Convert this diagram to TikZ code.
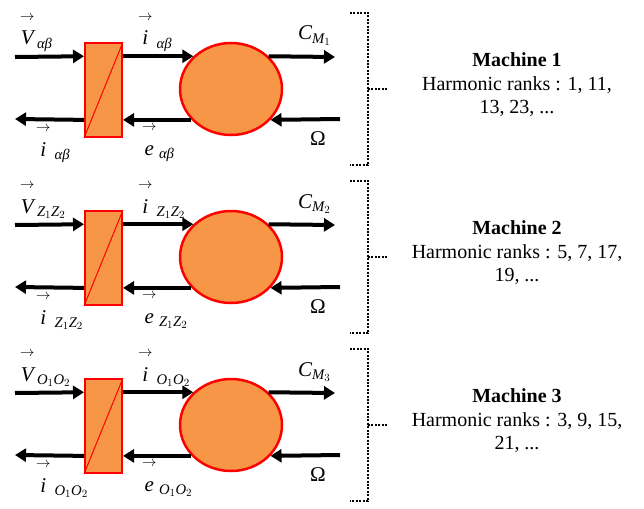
\documentclass[tikz,border=0pt]{standalone}
\usepackage{amsmath}
\usepackage{fontspec}
\setmainfont{Liberation Serif}
\usetikzlibrary{shapes.geometric,arrows.meta}
\definecolor{boxorange}{HTML}{F79646}
\newcommand{\vecup}[1]{\overset{\rightarrow}{\rule{0pt}{0.95em}\mathit{#1}}}

\begin{document}
\begin{tikzpicture}[x=1pt,y=-1pt]
        \tikzstyle{arr}=[line width=4pt, -{Triangle[length=11pt,width=13pt]}]
        \tikzstyle{convbox}=[draw=red, fill=boxorange, line width=2pt, minimum width=37pt, minimum height=94pt, inner sep=0pt]
        \tikzstyle{machine}=[ellipse, draw=red, fill=boxorange, line width=2.5pt, minimum width=102pt, minimum height=92pt, inner sep=0pt]
        \tikzstyle{sym}=[inner sep=0pt, anchor=base west, font=\fontsize{21}{25}\selectfont]
        \tikzstyle{ranks}=[align=center, font=\fontsize{20}{23.5}\selectfont]
        \tikzstyle{brace}=[line width=2pt, dash pattern=on 2pt off 1.4pt]

        \useasboundingbox (0,0) rectangle (644,508);

        \foreach \n/\dy/\sub/\ra/\rb in {1/0/{\text{\itshape αβ}}/{1, 11,}/{13, 23, ...},
                                          2/168/{\mathit{Z}_1\mathit{Z}_2}/{5, 7, 17,}/{19, ...},
                                          3/336/{\mathit{O}_1\mathit{O}_2}/{3, 9, 15,}/{21, ...}} {
        \begin{scope}[shift={(0,\dy)}]
            \node[convbox] (conv\n) at (103.5,90) {};
            \draw[red, line width=1pt] (conv\n.south west) -- (conv\n.north east);
            \node[machine] (mach\n) at (231,89) {};

            \coordinate (vin\n)  at (15,57);
            \coordinate (iout\n) at (15,119);
            \coordinate (cm\n)   at (335,57);
            \coordinate (om\n)   at (340,119);

            \draw[arr] (vin\n) -- (conv\n.west |- mach\n.139);
            \draw[arr] (conv\n.east |- mach\n.139) -- (mach\n.139);
            \draw[arr] (mach\n.41) -- (cm\n);
            \draw[arr] (om\n) -- (mach\n.-38);
            \draw[arr] (mach\n.218) -- (conv\n.east |- mach\n.218);
            \draw[arr] (conv\n.west |- mach\n.218) -- (iout\n);

            \node[sym] (vlab\n)  at (20,45)   {$\vecup{V}_{\,\sub}$};
            \node[sym] (ilab\n)  at (138,45)  {$\vecup{i}_{\;\sub}$};
            \node[sym] (clab\n)  at (298,40)  {$\mathit{C}_{\mathit{M}_\n}$};
            \node[sym] (iblab\n) at (36,156)  {$\vecup{i}_{\;\sub}$};
            \node[sym] (elab\n)  at (142,155) {$\vecup{e}_{\,\sub}$};
            \node[sym] (olab\n)  at (310,145) {Ω};

            % dotted brace
            \draw[brace] (350,13) -- (368,13) -- (368,165) -- (350,165);
            \draw[brace] (368,89) -- (388,89);

            \node[ranks] (txt\n) at (517,85) {\textbf{Machine \n}\\Harmonic ranks : \ra\\\rb};
        \end{scope}
        }
\end{tikzpicture}
\end{document}
